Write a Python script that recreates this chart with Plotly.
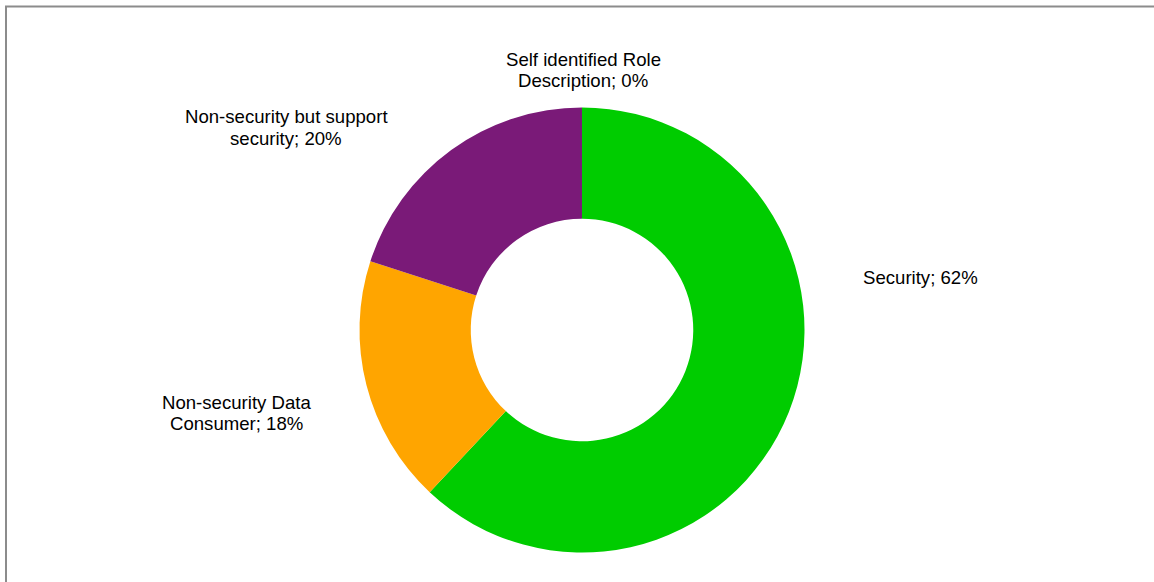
import plotly.graph_objects as go

# Role breakdown of respondents (percent of total)
roles = [
    "Self identified Role Description",
    "Security",
    "Non-security Data Consumer",
    "Non-security but support security",
]
shares = [0, 62, 18, 20]
slice_colors = ["#4472C4", "#00CC00", "#FFA500", "#7A1A78"]

# Label text lines (line breaks as drawn next to each slice)
label_lines = [
    ["Self identified Role", "Description"],
    ["Security"],
    ["Non-security Data", "Consumer"],
    ["Non-security but support", "security"],
]
# Pixel position (x, y from top) of the first line of each label
label_pos = [(583, 60), (920, 277), (236, 402), (286, 117)]
LINE_GAP = 21

W, H = 1154, 582
cx, cy, r = 582, 330, 222.5

fig = go.Figure(
    go.Pie(
        labels=roles,
        values=shares,
        hole=0.5,
        sort=False,
        direction="clockwise",
        rotation=0,
        marker=dict(colors=slice_colors, line=dict(width=0)),
        textinfo="none",
        hoverinfo="label+percent",
        showlegend=False,
        domain=dict(
            x=[(cx - r) / W, (cx + r) / W],
            y=[1 - (cy + r) / H, 1 - (cy - r) / H],
        ),
    )
)

total = sum(shares)
for lines, val, (px, py) in zip(label_lines, shares, label_pos):
    pct = round(100 * val / total)
    rows = lines[:-1] + [f"{lines[-1]}; {pct}%"]
    for i, row in enumerate(rows):
        fig.add_annotation(
            x=px / W, y=1 - (py + i * LINE_GAP) / H, xref="paper", yref="paper",
            text=row, showarrow=False, align="center",
            xanchor="center", yanchor="middle",
            font=dict(family="Liberation Sans, Arial, sans-serif", size=18.6, color="#000000"),
        )

# Chart frame
fig.add_shape(
    type="rect", xref="paper", yref="paper",
    x0=6 / W, y0=-0.05, x1=1.05, y1=1 - 6.5 / H,
    line=dict(color="#8C8C8C", width=2), fillcolor="rgba(0,0,0,0)",
)

fig.update_layout(
    width=W, height=H,
    margin=dict(l=0, r=0, t=0, b=0),
    paper_bgcolor="white",
    plot_bgcolor="white",
)

fig.write_html("out.html")
